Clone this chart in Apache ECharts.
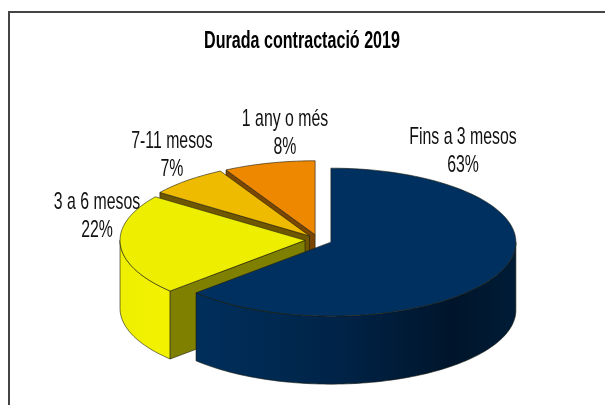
<!DOCTYPE html>
<html>
<head>
<meta charset="utf-8">
<style>html,body{margin:0;padding:0;background:#fff}#c{width:605px;height:405px}</style>
<script src="https://cdn.jsdelivr.net/npm/echarts@6/dist/echarts.min.js"></script>
</head>
<body>
<div id="c"></div>
<script>
// ---- data ----
const chartTitle = 'Durada contractació 2019';
const categories = ['Fins a 3 mesos', '3 a 6 mesos', '7-11 mesos', '1 any o més'];
const percentages = [63, 22, 7, 8];

// ---- styles & layout (not data) ----
const topColors = ['#00305f', '#eeee00', '#eebb00', '#ee8800'];
const cutColors = ['#001c38', '#7f7f00', '#6f5700', '#7a4600'];
const wallColors = [
  [[0, '#002f5c'], [0.45, '#002347'], [0.8, '#00152b'], [1, '#001c36']],
  [[0, '#eeee00'], [1, '#f2f200']],
  [[0, '#eebb00'], [1, '#eebb00']],
  [[0, '#ee8800'], [1, '#ee8800']]
];
const labelAnchors = [[463, 151], [97, 216], [172, 155.5], [285, 133]];
const PIE = {cx: 318.5, cy: 240, rx: 185, ry: 74, depth: 68, explode: 13.5};
const FONT = '"Liberation Sans",Arial,sans-serif';

const total = percentages.reduce((a, b) => a + b, 0);
const rad = d => d * Math.PI / 180;

function renderSlice(params, api) {
  const i = api.value(0);
  let start = 0;
  for (let k = 0; k < i; k++) start += percentages[k] / total * 360;
  const end = start + percentages[i] / total * 360;
  const mid = rad((start + end) / 2);
  const cx = PIE.cx + PIE.explode * Math.sin(mid);
  const cy = PIE.cy - PIE.explode * Math.cos(mid) * PIE.ry / PIE.rx;
  const rim = (a, dz) => [cx + PIE.rx * Math.sin(rad(a)), cy - PIE.ry * Math.cos(rad(a)) + (dz || 0)];
  const arc = (a0, a1, dz) => {
    const pts = [], n = Math.max(2, Math.ceil((a1 - a0) / 1.5));
    for (let t = 0; t <= n; t++) pts.push(rim(a0 + (a1 - a0) * t / n, dz));
    return pts;
  };
  const base = (4 - i) * 10;
  const line = {stroke: '#1c1c10', lineWidth: 0.6};
  const children = [];

  const wall0 = Math.max(start, 90), wall1 = Math.min(end, 270);
  if (wall1 > wall0) {
    children.push({
      type: 'polygon', z2: base + 1,
      shape: {points: arc(wall0, wall1, 0).concat(arc(wall0, wall1, PIE.depth).reverse())},
      style: Object.assign({
        fill: {type: 'linear', x: 0, y: 0, x2: 1, y2: 0, global: false,
          colorStops: wallColors[i].map(s => ({offset: s[0], color: s[1]}))}
      }, line)
    });
  }
  const cut = a => ({
    type: 'polygon', z2: base + 2,
    shape: {points: [[cx, cy], rim(a), rim(a, PIE.depth), [cx, cy + PIE.depth]]},
    style: Object.assign({fill: cutColors[i]}, line)
  });
  if (Math.sin(rad(start)) < -1e-6) children.push(cut(start));
  if (Math.sin(rad(end)) > 1e-6) children.push(cut(end));

  children.push({
    type: 'polygon', z2: base + 3,
    shape: {points: [[cx, cy]].concat(arc(start, end, 0))},
    style: Object.assign({fill: topColors[i]}, line)
  });
  children.push({
    type: 'text', z2: 100,
    x: labelAnchors[i][0], y: labelAnchors[i][1], scaleX: 0.66,
    style: {
      x: 0, y: 0,
      text: categories[i] + '\n' + percentages[i] + '%',
      align: 'center', verticalAlign: 'middle',
      font: '24px ' + FONT, lineHeight: 28, fill: '#111'
    }
  });
  return {type: 'group', children};
}

const chart = echarts.init(document.getElementById('c'), null, {renderer: 'canvas', width: 605, height: 405});
chart.setOption({
  animation: false,
  backgroundColor: '#fff',
  graphic: [{
    type: 'polyline', silent: true,
    shape: {points: [[9, 405], [9, 12], [605, 12]]},
    style: {stroke: '#444', lineWidth: 2, fill: 'none'}
  }, {
    type: 'text', silent: true,
    x: 302, y: 42, scaleX: 0.7,
    style: {
      x: 0, y: 0, text: chartTitle, align: 'center', verticalAlign: 'middle',
      font: 'bold 23px ' + FONT, fill: '#000'
    }
  }],
  series: [{
    type: 'custom',
    coordinateSystem: 'none',
    silent: true,
    renderItem: renderSlice,
    data: categories.map((c, i) => [i, percentages[i]])
  }]
});
</script>
</body>
</html>
